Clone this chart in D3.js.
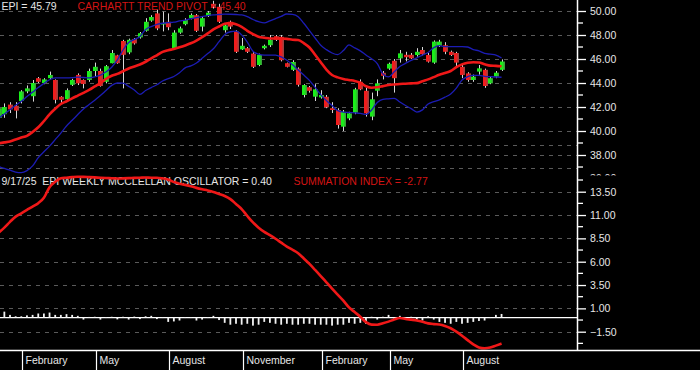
<!DOCTYPE html>
<html><head><meta charset="utf-8">
<script src="https://cdnjs.cloudflare.com/ajax/libs/d3/7.8.5/d3.min.js"></script>
<style>body{margin:0;background:#000;}svg{display:block;}</style>
</head><body>
<svg id="c" width="700" height="370"></svg>
<script>
// ---------- DATA ----------
const dates = d3.timeFriday.range(new Date(2024,0,5), new Date(2025,8,20)); // weekly bars, 90
const open  = [41.1,41.4,42.2,42.1,42.5,43.3,42.9,44.4,44.0,44.4,44.25,42.85,42.65,43.85,44.67,44.25,44.25,45.0,45.0,44.1,45.65,46.3,47.5,46.55,47.67,47.8,48.35,49.2,49.8,48.9,49.1,46.9,48.2,48.9,49.4,49.65,48.7,49.58,50.6,50.35,48.4,49.1,48.3,46.8,46.9,46.45,45.5,46.9,47.15,47.9,47.85,45.65,45.1,45.2,43.0,43.65,42.86,42.8,42.85,41.9,41.75,40.36,41.05,41.53,44.1,43.35,41.2,43.36,44.85,45.2,45.85,46.05,46.35,46.35,46.33,46.75,46.33,45.7,47.1,47.15,46.6,46.5,45.35,44.8,44.25,44.95,45.1,43.97,44.53,45.1];
const high  = [42.0,42.3,42.4,42.4,43.4,43.8,44.25,44.5,44.4,44.95,44.3,42.9,43.55,44.35,44.8,44.3,45.2,45.7,45.2,45.5,46.75,46.35,47.6,47.7,47.75,48.25,49.4,49.65,50.1,49.95,49.8,48.4,48.7,49.4,49.8,49.75,49.5,50.0,50.85,50.6,49.0,49.2,48.4,47.75,47.0,46.6,46.45,47.2,48.0,48.0,48.0,45.7,45.9,45.3,43.9,43.75,43.9,43.4,43.0,42.4,41.9,41.75,41.6,43.6,44.3,43.6,43.2,44.3,45.0,45.7,46.0,46.75,46.6,46.5,46.9,47.0,46.5,47.55,47.6,47.4,46.7,46.6,45.5,44.9,44.7,45.5,45.2,44.5,45.0,45.97];
const low   = [40.9,41.1,41.5,41.05,42.3,43.15,42.45,44.0,43.9,44.25,42.3,42.3,42.58,43.75,43.83,43.55,44.1,44.5,43.7,43.97,45.64,45.6,43.55,46.4,47.2,47.7,48.28,49.1,48.4,48.3,48.4,46.8,48.1,48.8,49.3,48.25,48.3,49.5,50.2,49.0,48.2,48.5,46.5,46.75,46.5,45.25,45.4,46.8,47.0,47.5,45.8,45.3,45.0,43.7,42.8,43.2,42.5,42.7,41.9,41.5,40.2,40.0,40.9,41.4,43.4,41.2,40.9,42.9,44.3,45.1,43.2,45.7,45.8,46.0,46.2,46.3,45.7,45.6,47.0,46.4,46.25,45.4,44.4,44.1,44.1,44.7,43.6,43.9,44.4,45.0];
const close = [41.9,42.0,41.8,41.7,43.3,43.55,44.0,44.1,44.3,44.67,42.6,42.6,43.4,44.25,43.97,43.92,45.0,45.35,43.75,45.4,46.5,45.65,46.35,47.6,47.3,48.15,49.1,49.5,48.55,49.0,48.65,48.2,48.55,49.25,49.67,48.35,49.4,49.86,50.35,49.1,48.8,48.7,46.6,47.1,46.6,45.35,46.33,47.1,47.6,47.6,45.9,45.35,45.75,43.85,43.83,43.35,43.47,43.0,41.98,41.75,40.5,41.6,41.47,43.47,43.47,41.47,42.64,43.97,44.6,45.6,44.4,46.47,46.15,46.05,46.6,46.4,45.78,47.45,47.45,46.6,46.33,45.7,44.67,44.25,44.53,45.22,43.75,44.4,44.86,45.79];
const pivot = [38.97,39.05,39.13,39.3,39.45,39.6,39.92,40.31,40.83,41.38,41.85,42.25,42.48,42.72,42.95,43.18,43.42,43.71,44.0,44.34,44.6,44.76,44.98,45.21,45.38,45.54,45.77,46.06,46.31,46.59,46.73,46.83,46.97,47.13,47.31,47.54,47.82,48.13,48.47,48.71,48.93,48.99,48.89,48.68,48.35,48.08,47.85,47.77,47.71,47.71,47.71,47.68,47.61,47.58,47.32,46.96,46.35,45.73,45.12,44.67,44.47,44.34,44.25,44.17,44.02,43.73,43.61,43.65,43.74,43.83,43.88,43.92,43.94,43.97,43.99,44.15,44.3,44.49,44.68,44.83,45.0,45.32,45.55,45.68,45.73,45.71,45.57,45.45,45.43,45.40];
const upperBand = [41.08,41.42,41.77,42.14,42.47,42.87,43.24,43.63,43.96,44.27,44.42,44.42,44.42,44.44,44.49,44.46,44.42,44.51,44.65,44.93,45.31,45.92,46.75,47.38,47.63,47.88,48.46,48.7,48.88,48.98,49.03,49.07,49.17,49.24,49.36,49.45,49.53,49.62,49.68,49.71,49.74,49.73,49.71,49.68,49.53,49.29,49.11,49.01,49.18,49.37,49.55,49.75,49.72,49.53,48.98,48.37,47.75,47.14,46.78,46.5,46.37,46.7,47.17,46.93,46.68,46.34,46.02,45.62,44.75,44.51,44.93,45.38,45.63,45.88,46.09,46.33,46.54,46.95,47.12,47.03,47.03,47.03,47.03,47.0,46.78,46.68,46.47,46.4,46.33,46.08];
const lowerBand = [37.03,36.88,36.73,36.58,36.53,36.7,37.09,37.78,38.27,38.74,39.28,39.83,40.42,40.89,41.37,41.84,42.2,42.57,42.95,43.38,43.8,44.0,43.99,43.72,43.42,43.05,43.37,43.62,43.85,44.17,44.37,44.54,44.85,45.26,45.42,45.67,46.06,46.45,46.85,47.45,48.03,48.27,48.32,48.01,47.41,46.64,46.41,46.33,46.33,46.33,46.17,45.89,45.53,45.09,44.66,44.22,43.63,43.03,42.53,42.12,41.7,41.58,41.54,41.51,41.47,41.38,41.75,42.37,42.64,42.68,42.72,42.42,42.13,41.86,41.58,41.76,42.25,42.45,42.6,42.82,43.09,43.57,44.25,44.53,44.63,44.63,44.56,44.53,44.5,44.48];
const oscillator = [0.75,0.65,0.3,0.15,0.15,0.25,0.3,0.45,0.45,0.55,0.3,0.3,0.38,0.3,0.2,-0.2,0.08,0.1,-0.2,0.05,0.1,-0.18,0.1,-0.2,0.12,-0.15,0.15,0.2,-0.15,0.05,-0.45,-0.4,-0.3,0.05,0.05,-0.3,-0.2,0.05,0.2,-0.25,-0.55,-0.75,-0.65,-0.75,-0.65,-0.85,-0.75,-0.45,-0.55,-0.65,-0.75,-0.65,-0.75,-0.75,-0.65,-0.65,-0.75,-0.75,-0.75,-0.85,-0.75,-0.75,-0.55,-0.65,-0.55,-0.65,0.1,-0.2,0.1,0.3,-0.1,0.2,-0.2,0.1,-0.2,-0.3,0.15,-0.2,-0.45,-0.55,-0.65,-0.45,-0.65,-0.55,-0.45,-0.35,-0.3,0.05,0.3,0.40];
const summation = [9.11,9.65,10.27,10.83,11.19,11.55,11.9,12.27,12.85,13.99,14.56,14.93,15.0,15.06,15.1,15.09,15.06,15.03,14.99,14.96,14.94,14.91,14.93,14.95,14.98,15.0,15.02,15.0,15.0,14.93,14.81,14.53,14.35,14.23,14.09,13.91,13.76,13.63,13.47,13.26,13.04,12.71,12.18,11.64,10.9,10.21,9.65,9.2,8.84,8.46,8.04,7.62,7.28,6.91,6.35,5.76,5.12,4.46,3.79,3.12,2.47,1.83,1.1,0.6,0.1,-0.48,-0.74,-0.75,-0.6,-0.42,-0.2,-0.04,-0.14,-0.21,-0.29,-0.43,-0.61,-0.69,-0.73,-0.88,-1.13,-1.5,-1.93,-2.4,-2.85,-3.19,-3.28,-3.2,-2.99,-2.77];
const priceTicks = [38,40,42,44,46,48,50];
const priceMinor = [37,39,41,43,45,47,49];
const oscTicks = [-1.5,1,3.5,6,8.5,11,13.5];
const oscGridExtra = [16,18.5];
const oscMinor = [-2.75,-0.25,2.25,4.75,7.25,9.75,12.25];
const monthLabels = ["February","May","August","November","February","May","August"];
const monthStarts = [new Date(2024,1,1),new Date(2024,4,1),new Date(2024,7,1),new Date(2024,10,1),new Date(2025,1,1),new Date(2025,4,1),new Date(2025,7,1)];
const legend = {epi:"EPI = 45.79", pivot:"CARHARTT TREND PIVOT = 45.40", osc:"9/17/25  EPI WEEKLY MCCLELLAN OSCILLATOR = 0.40", summ:"SUMMATION INDEX = -2.77"};

// ---------- CHART ----------
const svg = d3.select('#c');
const axisX = 577, bottomY = 350;
const FONT = "'Liberation Sans', Arial, sans-serif";
const x = d3.scaleTime().domain([new Date(2024,1,2), new Date(2025,8,19)]).range([21.3, 501.55]);
const yP = d3.scaleLinear().domain([38,50]).range([155,11]);
const yO = d3.scaleLinear().domain([-1.5,13.5]).range([331.7,191.7]);

svg.append('rect').attr('width',700).attr('height',370).attr('fill','#000');

const defs = svg.append('defs');
function grad(id, a, b){
  const g = defs.append('linearGradient').attr('id',id).attr('x1','0').attr('x2','1').attr('y1','0').attr('y2','0');
  g.append('stop').attr('offset','0%').attr('stop-color',a);
  g.append('stop').attr('offset','45%').attr('stop-color',a);
  g.append('stop').attr('offset','100%').attr('stop-color',b);
}
grad('gUp','#19f019','#3f8f3f');
grad('gDn','#f21c1c','#8f4646');
defs.append('clipPath').attr('id','clip36').append('rect').attr('x',580).attr('y',0).attr('width',120).attr('height',175.5);

// grid
const grid = svg.append('g').attr('stroke','#5a5a5a').attr('stroke-dasharray','4,5').attr('stroke-width',1);
grid.selectAll('.gp').data(priceTicks).join('line').attr('x1',0).attr('x2',axisX)
  .attr('y1',d=>Math.round(yP(d))+0.5).attr('y2',d=>Math.round(yP(d))+0.5);
grid.selectAll('.go').data(oscTicks.concat(oscGridExtra)).join('line').attr('x1',0).attr('x2',axisX)
  .attr('y1',d=>Math.round(yO(d))+0.5).attr('y2',d=>Math.round(yO(d))+0.5);

// legends (drawn beneath marks)
const txt = svg.append('g').attr('font-family',FONT).attr('font-size',10.5);
txt.append('text').attr('x',1.5).attr('y',9.6).attr('fill','#e6e6e6').text(legend.epi);
txt.append('text').attr('x',77.5).attr('y',9.6).attr('fill','#d41414').text(legend.pivot);
txt.append('text').attr('x',1.5).attr('y',185).attr('fill','#e6e6e6').attr('xml:space','preserve').style('white-space','pre').text(legend.osc);
txt.append('text').attr('x',293.5).attr('y',185).attr('fill','#d41414').text(legend.summ);

// lower panel: zero line, histogram, summation
svg.append('line').attr('x1',0).attr('x2',axisX).attr('y1',yO(0)).attr('y2',yO(0)).attr('stroke','#fff').attr('stroke-width',1.3);
svg.append('g').selectAll('rect').data(oscillator).join('rect')
  .attr('x',(d,i)=>x(dates[i])-0.9).attr('width',1.8)
  .attr('y',d=>Math.min(yO(d),yO(0))).attr('height',d=>Math.max(0.8,Math.abs(yO(d)-yO(0))))
  .attr('fill','#f2f2f2');
svg.append('path').datum(summation)
  .attr('d',d3.line().x((d,i)=>x(dates[i])).y(d=>yO(d)).curve(d3.curveMonotoneX))
  .attr('fill','none').attr('stroke','#f01818').attr('stroke-width',2.6);

// candles
const cg = svg.append('g');
const bw = 5;
cg.selectAll('line').data(dates).join('line')
  .attr('x1',(d,i)=>Math.round(x(d))+0.5).attr('x2',(d,i)=>Math.round(x(d))+0.5)
  .attr('y1',(d,i)=>yP(high[i])).attr('y2',(d,i)=>yP(low[i]))
  .attr('stroke','#d8d8d8').attr('stroke-width',1);
cg.selectAll('rect').data(dates).join('rect')
  .attr('x',(d,i)=>Math.round(x(d))+0.5-bw/2).attr('width',bw)
  .attr('y',(d,i)=>yP(Math.max(open[i],close[i])))
  .attr('height',(d,i)=>Math.max(1.5,Math.abs(yP(open[i])-yP(close[i]))))
  .attr('fill',(d,i)=>close[i]>=open[i]?'url(#gUp)':'url(#gDn)');

// bands and pivot
const lineP = arr => d3.line().x((d,i)=>x(dates[i])).y(d=>yP(d)).curve(d3.curveMonotoneX)(arr);
svg.append('path').attr('d',lineP(upperBand)).attr('fill','none').attr('stroke','#1c1cb4').attr('stroke-width',1.3);
svg.append('path').attr('d',lineP(lowerBand)).attr('fill','none').attr('stroke','#1c1cb4').attr('stroke-width',1.3);
svg.append('path').attr('d',lineP(pivot)).attr('fill','none').attr('stroke','#f01818').attr('stroke-width',2.6);

// mask left of y-axis region beyond axis
svg.append('rect').attr('x',axisX).attr('y',0).attr('width',700-axisX).attr('height',bottomY).attr('fill','#000');

// right axis
const ax = svg.append('g').attr('stroke','#fff');
ax.append('line').attr('x1',axisX+0.5).attr('x2',axisX+0.5).attr('y1',0).attr('y2',bottomY).attr('stroke-width',1.5);
const yr = svg.append('g').attr('transform',`translate(${axisX},0)`);
const aP = d3.axisRight(yP).tickValues(priceTicks).tickSize(9).tickPadding(4).tickFormat(d3.format('.2f'));
const aO = d3.axisRight(yO).tickValues(oscTicks).tickSize(9).tickPadding(4).tickFormat(d3.format('.2f'));
function styleAxis(g){
  g.select('.domain').remove();
  g.selectAll('line').attr('stroke','#fff').attr('stroke-width',1.3);
  g.selectAll('text').attr('fill','#e6e6e6').attr('font-family',FONT).attr('font-size',10.5);
}
yr.append('g').call(aP).call(styleAxis);
yr.append('g').call(aO).call(styleAxis);
yr.selectAll('.minP').data(priceMinor).join('line').attr('x1',0).attr('x2',6)
  .attr('y1',d=>yP(d)).attr('y2',d=>yP(d)).attr('stroke','#fff').attr('stroke-width',1.3);
yr.selectAll('.minO').data(oscMinor).join('line').attr('x1',0).attr('x2',6)
  .attr('y1',d=>yO(d)).attr('y2',d=>yO(d)).attr('stroke','#fff').attr('stroke-width',1.3);
yr.append('line').attr('x1',0).attr('x2',6).attr('y1',yP(36)+1).attr('y2',yP(36)+1).attr('stroke','#fff').attr('stroke-width',1.3);
svg.append('text').attr('clip-path','url(#clip36)').attr('x',axisX+13).attr('y',yP(36)).attr('dy','0.32em')
  .attr('fill','#e6e6e6').attr('font-family',FONT).attr('font-size',10.5).text(d3.format('.2f')(36));

// bottom axis
svg.append('line').attr('x1',0).attr('x2',700).attr('y1',bottomY+0.5).attr('y2',bottomY+0.5).attr('stroke','#fff').attr('stroke-width',1.5);
const tickDates = monthStarts.map(m => dates.find(d => d >= m));
const bx = svg.append('g');
bx.selectAll('line').data(tickDates).join('line')
  .attr('x1',d=>Math.round(x(d))+1.5).attr('x2',d=>Math.round(x(d))+1.5)
  .attr('y1',bottomY).attr('y2',370).attr('stroke','#fff').attr('stroke-width',1.2);
bx.selectAll('text').data(tickDates).join('text')
  .attr('x',d=>Math.round(x(d))+4.5).attr('y',364)
  .attr('fill','#e6e6e6').attr('font-family',FONT).attr('font-size',10.5)
  .text((d,i)=>monthLabels[i]);
</script>
</body></html>
